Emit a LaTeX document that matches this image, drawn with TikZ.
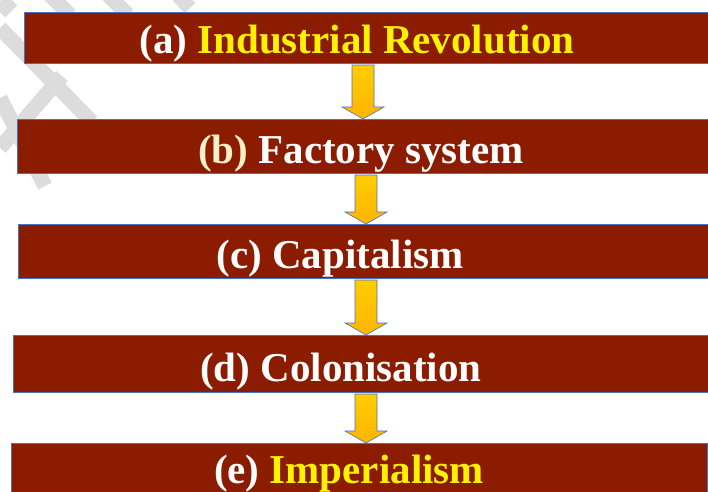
\documentclass[tikz,border=0pt]{standalone}
\usepackage{fontspec}
\setmainfont{Liberation Serif}
\usetikzlibrary{positioning,calc}
\definecolor{boxred}{RGB}{139,28,0}
\definecolor{boxline}{RGB}{68,114,196}
\definecolor{markgray}{RGB}{220,220,220}
\definecolor{cream}{RGB}{245,240,200}
\definecolor{arrtop}{RGB}{255,205,0}
\definecolor{arrmid}{RGB}{255,238,20}
\definecolor{arrbot}{RGB}{255,180,0}
\tikzstyle{redbox}=[rectangle, draw=boxline, fill=boxred, line width=0.8pt, inner sep=0pt, outer sep=0pt, anchor=north west]
\tikzstyle{steptext}=[text=white, font=\bfseries\fontsize{41}{41}\selectfont, anchor=base, inner sep=0pt]
\tikzstyle{goldarrow}=[draw=boxline, line width=0.6pt, top color=arrtop, middle color=arrmid, bottom color=arrbot]
\tikzstyle{wmark}=[draw=markgray, line width=15pt]
\newcommand{\flowarrow}[3]{\draw[goldarrow] let \p1=(#1 |- #2.south), \p2=(#1 |- #3.north) in
  (\x1-11pt,\y1-2pt) -- (\x1+11pt,\y1-2pt) -- (\x1+11pt,\y2+12pt) -- (\x1+21pt,\y2+12pt) -- (\x1,\y2)
  -- (\x1-21pt,\y2+12pt) -- (\x1-11pt,\y2+12pt) -- cycle;}

\begin{document}
\begin{tikzpicture}[x=1pt,y=-1pt]
\useasboundingbox (0,0) rectangle (708,491);
% faint watermark
\draw[wmark] (0,28) -- (92,122);
\draw[wmark] (0,98) -- (45,186);
\draw[wmark] (62,76) -- (0,148);
\draw[wmark] (0,12) -- (12,0);
\draw[wmark] (50,-5) -- (70,15);
\draw[wmark] (108,-5) -- (128,15);
\draw[wmark] (178,-5) -- (190,8);
% boxes
\node (IR) [redbox, minimum width=688pt, minimum height=51pt] at (24,12) {};
\node (FS) [redbox, minimum width=695pt, minimum height=54pt] at (17,119) {};
\node (CAP) [redbox, minimum width=694pt, minimum height=54pt] at (18,224) {};
\node (COL) [redbox, minimum width=699pt, minimum height=57pt] at (13,335) {};
\node (IMP) [redbox, minimum width=696pt, minimum height=60pt] at (11,443) {};
% labels
\node (IRtext) [steptext] at (357,53) {(a) \textcolor{yellow}{Industrial Revolution}};
\node (FStext) [steptext] at (361,163) {\textcolor{cream}{(b)} Factory system};
\node (CAPtext) [steptext] at (340,268) {(c) Capitalism};
\node (COLtext) [steptext] at (341,381) {(d) Colonisation};
\node (IMPtext) [steptext] at (349,483) {(e) \textcolor{yellow}{Imperialism}};
% arrows
\coordinate (col1) at (363,0);
\coordinate (col2) at (366,0);
\flowarrow{col1}{IR}{FS}
\flowarrow{col2}{FS}{CAP}
\flowarrow{col2}{CAP}{COL}
\flowarrow{col2}{COL}{IMP}
\end{tikzpicture}
\end{document}
